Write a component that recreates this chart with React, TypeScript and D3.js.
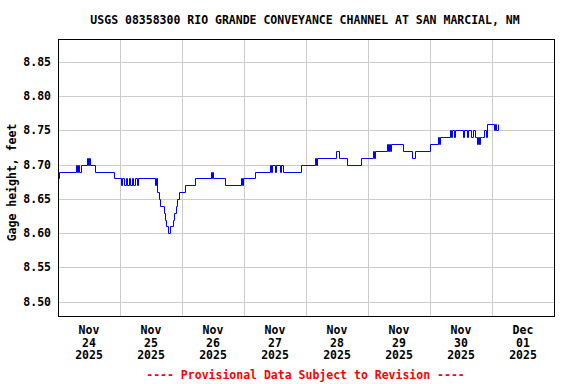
import React from "react";
import * as d3 from "d3";

const title = "USGS 08358300 RIO GRANDE CONVEYANCE CHANNEL AT SAN MARCIAL, NM";
const yAxisTitle = "Gage height, feet";
const footer = "---- Provisional Data Subject to Revision ----";
const yTicks = [8.5, 8.55, 8.6, 8.65, 8.7, 8.75, 8.8, 8.85];
const dayTicks = ["2025-11-24", "2025-11-25", "2025-11-26", "2025-11-27", "2025-11-28", "2025-11-29", "2025-11-30", "2025-12-01"];
const dayLabels = [
  ["Nov", "24", "2025"], ["Nov", "25", "2025"], ["Nov", "26", "2025"], ["Nov", "27", "2025"],
  ["Nov", "28", "2025"], ["Nov", "29", "2025"], ["Nov", "30", "2025"], ["Dec", "01", "2025"],
];
// hours since 2025-11-24 00:00 at which the gage value changes
const hours = [
  0.0, 0.3, 7.0, 7.4, 7.7, 8.0, 8.9, 11.2, 11.6, 12.0, 12.4, 14.3, 21.7,
  24.4, 24.8, 25.6, 26.2, 26.8, 27.5, 28.0, 28.6, 29.2, 29.8, 30.4, 30.8,
  37.5, 38.0, 38.3, 39.1, 39.5, 41.0, 41.4, 41.8, 42.6, 43.4, 44.5, 45.0, 45.6, 46.1, 46.8,
  49.2, 53.0, 59.1, 59.4, 59.7, 60.0, 64.6, 70.8, 71.2, 71.6, 76.3,
  82.1, 82.5, 83.0, 84.0, 84.4, 86.0, 86.5, 87.1, 94.1,
  99.5, 99.8, 100.3, 107.6, 108.8, 111.8, 117.2, 121.8, 122.2, 122.6,
  127.4, 127.8, 128.2, 128.6, 129.0, 133.5, 136.9, 138.2,
  144.0, 147.1, 147.5, 148.0, 151.7, 152.2, 152.7, 153.1, 153.7,
  156.8, 157.3, 158.4, 158.9, 160.0, 160.5, 161.5, 162.0, 162.5, 163.0, 163.5,
  164.0, 164.8, 165.5, 166.1, 168.8, 169.2, 169.6, 170.3,
];
const gageHeight = [
  8.68, 8.69, 8.70, 8.69, 8.70, 8.69, 8.70, 8.71, 8.70, 8.71, 8.70, 8.69, 8.68,
  8.67, 8.68, 8.67, 8.68, 8.67, 8.68, 8.67, 8.68, 8.67, 8.68, 8.67, 8.68,
  8.67, 8.68, 8.66, 8.65, 8.64, 8.63, 8.62, 8.61, 8.60, 8.61, 8.62, 8.63, 8.64, 8.65, 8.66,
  8.67, 8.68, 8.69, 8.68, 8.69, 8.68, 8.67, 8.68, 8.67, 8.68, 8.69,
  8.70, 8.69, 8.70, 8.69, 8.70, 8.69, 8.70, 8.69, 8.70,
  8.71, 8.70, 8.71, 8.72, 8.71, 8.70, 8.71, 8.72, 8.71, 8.72,
  8.73, 8.72, 8.73, 8.72, 8.73, 8.72, 8.71, 8.72,
  8.73, 8.74, 8.73, 8.74, 8.75, 8.74, 8.75, 8.74, 8.75,
  8.74, 8.75, 8.74, 8.75, 8.74, 8.75, 8.74, 8.73, 8.74, 8.73, 8.74,
  8.74, 8.75, 8.74, 8.76, 8.75, 8.76, 8.75, 8.76,
];

const W = 576, H = 384;
const left = 58, right = 554, top = 39, bottom = 316;
const font = "'DejaVu Sans Mono', monospace";

export default function App() {
  const start = new Date(2025, 10, 24).getTime();
  const x = d3.scaleTime().domain([new Date(2025, 10, 24), new Date(2025, 11, 2)]).range([left, right]);
  const y = d3.scaleLinear().domain([8.4791, 8.8836]).range([bottom, top]);
  const data = hours.map((h, i) => ({ t: new Date(start + h * 3600e3), v: gageHeight[i] }));
  const line = d3.line<{ t: Date; v: number }>()
    .x(d => Math.round(x(d.t)) + 0.5)
    .y(d => Math.round(y(d.v)) + 0.5)
    .curve(d3.curveStepAfter);
  const days = dayTicks.map(s => { const [a, b, c] = s.split("-").map(Number); return new Date(a, b - 1, c); });
  const px = (v: number) => Math.round(v) + 0.5;
  return (
    <svg width={W} height={H} style={{ position: "absolute", left: 0, top: 0 }}>
      <rect width={W} height={H} fill="#fff" />
      {yTicks.map(t => (
        <line key={t} x1={left} x2={right} y1={px(y(t))} y2={px(y(t))} stroke="#cccccc" strokeWidth={1} />
      ))}
      {days.slice(1).map((d, i) => (
        <line key={i} x1={px(x(d))} x2={px(x(d))} y1={top} y2={bottom} stroke="#cccccc" strokeWidth={1} />
      ))}
      <path d={line(data) || ""} fill="none" stroke="#0000ff" strokeWidth={1} />
      <rect x={left + 0.5} y={top + 0.5} width={right - left} height={bottom - top} fill="none" stroke="#000" strokeWidth={1} />
      {yTicks.map(t => (
        <text key={t} x={51} y={y(t) + 4} textAnchor="end" fontFamily={font} fontWeight="bold" fontSize={11.5}>{t.toFixed(2)}</text>
      ))}
      <text transform={`translate(16,${(top + bottom) / 2 + 5}) rotate(-90)`} textAnchor="middle" fontFamily={font} fontWeight="bold" fontSize={11.5}>{yAxisTitle}</text>
      {days.map((d, i) => {
        const cx = x(new Date(d.getTime() + 12 * 3600e3));
        return dayLabels[i].map((s, j) => (
          <text key={`${i}-${j}`} x={cx} y={334 + j * 12.7} textAnchor="middle" fontFamily={font} fontWeight="bold" fontSize={11.5}>{s}</text>
        ));
      })}
      <text x={305} y={24} textAnchor="middle" fontFamily={font} fontWeight="bold" fontSize={11.5}>{title}</text>
      <text x={305.5} y={379} textAnchor="middle" fontFamily={font} fontWeight="bold" fontSize={11.5} fill="#ff0000">{footer}</text>
    </svg>
  );
}
